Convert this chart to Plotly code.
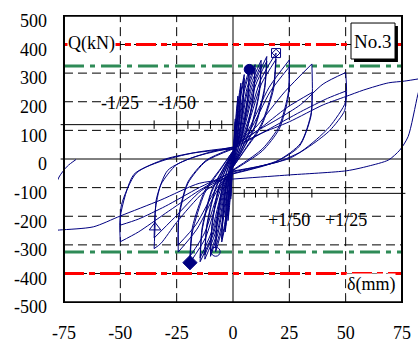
import plotly.graph_objects as go

FONT = "Liberation Serif, Times New Roman, serif"
NAVY = "#000080"

# ---------------- axis ticks ----------------
x_ticks = [-75, -50, -25, 0, 25, 50, 75]
y_ticks = [-500, -400, -300, -200, -100, 0, 100, 200, 300, 400, 500]

# reference load levels (kN)
q_red = [400, -400]
q_green = [325, -325]

# drift-angle scale lines and their tick positions (mm)
drift_q_neg_side = 120
drift_q_pos_side = -120
drift_ticks_neg = [-5, -10, -15, -20, -25, -35, -50]
drift_ticks_pos = [5, 10, 15, 20, 25, 35, 50, 75]

# drift labels
drift_labels = ["-1/25", "-1/50", "+1/50", "+1/25"]
drift_label_x = [-50, -25, 25, 50]
drift_label_q = [196, 196, -213, -213]

# ---------------- hysteresis branches: (delta mm, Q kN) ----------------
loop_01 = [
    [(0, 5), (0.4, 60), (1.0, 140)],
    [(1.0, 140), (0.7, 75), (0.3, 25), (0, -5)],
    [(0, -5), (-0.4, -60), (-1.0, -140)],
    [(-1.0, -140), (-0.7, -75), (-0.3, -25), (0, 5)],
    [(0, 5), (0.45, 55), (1.0, 130)],
    [(1.0, 130), (0.7, 70), (0.3, 22), (0, -5)],
    [(0, -5), (-0.45, -55), (-1.0, -130)],
    [(-1.0, -130), (-0.7, -70), (-0.3, -22), (0, 5)],
]
loop_02 = [
    [(0, 8), (0.8, 90), (1.6, 175), (2.2, 220)],
    [(2.2, 220), (1.9, 150), (1.1, 70), (0.4, 15), (0, -8)],
    [(0, -8), (-0.8, -88), (-1.6, -170), (-2.2, -215)],
    [(-2.2, -215), (-1.9, -145), (-1.1, -68), (-0.4, -14), (0, 8)],
    [(0, 8), (0.85, 85), (1.65, 165), (2.2, 205)],
    [(2.2, 205), (1.9, 140), (1.1, 65), (0.4, 12), (0, -8)],
    [(0, -8), (-0.85, -82), (-1.65, -160), (-2.2, -200)],
    [(-2.2, -200), (-1.9, -135), (-1.1, -62), (-0.4, -12), (0, 8)],
]
loop_03 = [
    [(0, 10), (1.2, 100), (2.5, 210), (3.5, 265)],
    [(3.5, 265), (3.1, 185), (2.0, 85), (0.8, 20), (0, -10)],
    [(0, -10), (-1.2, -95), (-2.5, -200), (-3.5, -255)],
    [(-3.5, -255), (-3.1, -178), (-2.0, -80), (-0.8, -18), (0, 10)],
    [(0, 10), (1.3, 95), (2.6, 200), (3.5, 250)],
    [(3.5, 250), (3.1, 175), (2.0, 80), (0.8, 18), (0, -10)],
    [(0, -10), (-1.3, -90), (-2.6, -192), (-3.5, -245)],
    [(-3.5, -245), (-3.1, -170), (-2.0, -76), (-0.8, -16), (0, 10)],
]
loop_05 = [
    [(0, 12), (1.6, 105), (3.4, 230), (5, 295)],
    [(5, 295), (4.5, 205), (3.0, 95), (1.2, 22), (0, -12)],
    [(0, -12), (-1.6, -100), (-3.4, -228), (-5, -290)],
    [(-5, -290), (-4.5, -200), (-3.0, -92), (-1.2, -20), (0, 12)],
    [(0, 12), (1.7, 100), (3.5, 220), (5, 282)],
    [(5, 282), (4.5, 195), (3.0, 90), (1.2, 20), (0, -12)],
    [(0, -12), (-1.7, -95), (-3.5, -218), (-5, -280)],
    [(-5, -280), (-4.5, -192), (-3.0, -88), (-1.2, -18), (0, 12)],
]
loop_07 = [
    [(0, 15), (2.2, 105), (4.8, 245), (7.2, 313)],
    [(7.2, 313), (6.6, 220), (4.4, 100), (1.8, 25), (0, -15)],
    [(0, -15), (-2.3, -105), (-5.1, -250), (-7.7, -324)],
    [(-7.7, -324), (-7.1, -225), (-4.7, -100), (-1.9, -25), (0, 15)],
    [(0, 15), (2.4, 100), (5.0, 235), (7.2, 300)],
    [(7.2, 300), (6.6, 210), (4.4, 95), (1.8, 22), (0, -15)],
    [(0, -15), (-2.5, -100), (-5.3, -240), (-7.7, -310)],
    [(-7.7, -310), (-7.1, -215), (-4.7, -95), (-1.9, -22), (0, 15)],
]
loop_10 = [
    [(0, 18), (2.8, 100), (6.3, 250), (9.8, 330)],
    [(9.8, 330), (9.1, 230), (6.2, 105), (2.6, 28), (0, -18)],
    [(0, -18), (-2.9, -100), (-6.5, -255), (-10, -340)],
    [(-10, -340), (-9.3, -235), (-6.4, -105), (-2.7, -28), (0, 18)],
    [(0, 18), (3.0, 95), (6.5, 240), (9.8, 318)],
    [(9.8, 318), (9.1, 220), (6.2, 100), (2.6, 25), (0, -18)],
    [(0, -18), (-3.1, -95), (-6.7, -245), (-10, -330)],
    [(-10, -330), (-9.3, -228), (-6.4, -100), (-2.7, -25), (0, 18)],
]
loop_12 = [
    [(0, 22), (3.5, 100), (8.0, 260), (12.5, 345)],
    [(12.5, 345), (11.7, 240), (8.0, 112), (3.4, 30), (0, -22)],
    [(0, -22), (-3.5, -100), (-8.0, -262), (-12.5, -350)],
    [(-12.5, -350), (-11.7, -245), (-8.0, -112), (-3.4, -30), (0, 22)],
    [(0, 22), (3.7, 95), (8.3, 250), (12.5, 330)],
    [(12.5, 330), (11.7, 230), (8.0, 106), (3.4, 27), (0, -22)],
    [(0, -22), (-3.7, -95), (-8.3, -252), (-12.5, -335)],
    [(-12.5, -335), (-11.7, -235), (-8.0, -106), (-3.4, -27), (0, 22)],
]
loop_15 = [
    [(0, 25), (4.2, 100), (9.6, 265), (15, 358)],
    [(15, 358), (14, 250), (9.8, 118), (4.2, 32), (0, -25)],
    [(0, -25), (-4.1, -100), (-9.4, -268), (-14.6, -359)],
    [(-14.6, -359), (-13.7, -250), (-9.6, -118), (-4.1, -32), (0, 25)],
    [(0, 25), (4.4, 95), (9.9, 255), (15, 342)],
    [(15, 342), (14, 240), (9.8, 112), (4.2, 30), (0, -25)],
    [(0, -25), (-4.3, -95), (-9.7, -258), (-14.6, -345)],
    [(-14.6, -345), (-13.7, -240), (-9.6, -112), (-4.1, -30), (0, 25)],
]
loop_19 = [
    [(0, 28), (5.2, 100), (12.2, 275), (19.1, 370)],
    [(19.1, 370), (18, 258), (12.6, 122), (5.4, 35), (0, -28)],
    [(0, -28), (-5.2, -100), (-12.2, -275), (-19.1, -362)],
    [(-19.1, -362), (-18, -255), (-12.6, -120), (-5.4, -35), (0, 28)],
    [(0, 28), (5.5, 95), (12.6, 262), (19.1, 348)],
    [(19.1, 348), (18, 245), (12.6, 115), (5.4, 32), (0, -28)],
    [(0, -28), (-5.5, -95), (-12.6, -258), (-19.1, -340)],
    [(-19.1, -340), (-18, -238), (-12.6, -112), (-5.4, -32), (0, 28)],
]
loop_25 = [
    [(0, 32), (7, 105), (16, 250), (25, 346)],
    [(25, 346), (24.6, 235), (20.5, 115), (13, 35), (0, -38)],
    [(0, -38), (-7, -110), (-16, -245), (-24.3, -325)],
    [(-24.3, -325), (-24, -205), (-20, -85), (-12, -8), (0, 35)],
    [(0, 35), (7.5, 100), (16.5, 235), (25, 322)],
    [(25, 322), (24.6, 220), (20.5, 105), (13, 28), (0, -40)],
    [(0, -40), (-7.5, -105), (-16.5, -230), (-24.3, -300)],
    [(-24.3, -300), (-24, -195), (-20, -80), (-12, -5), (0, 38)],
]
loop_35 = [
    [(0, 38), (10, 110), (23, 235), (35, 332)],
    [(35, 332), (34.8, 165), (30, 55), (20, -5), (0, -50)],
    [(0, -50), (-13, -116), (-25, -221), (-32, -295), (-35, -313)],
    [(-35, -313), (-34.6, -239), (-34, -140), (-29, -40), (-18, 5), (0, 40)],
    [(0, 40), (11, 100), (24, 180), (35, 232)],
    [(35, 232), (34.6, 150), (29.5, 45), (19, -10), (0, -52)],
    [(0, -52), (-14, -110), (-26, -205), (-35, -276)],
    [(-35, -276), (-34.5, -180), (-32, -90), (-25, -20), (-12, 20), (0, 42)],
]
loop_50 = [
    [(0, 42), (10, 95), (20, 140), (30, 190), (40, 262), (50, 302)],
    [(50, 302), (50, 200), (43, 114), (37, 68), (30, 25), (20, -10), (10, -28), (0, -42)],
    [(0, -42), (-15, -110), (-30, -190), (-42, -255), (-50, -289)],
    [(-50, -289), (-50, -200), (-44, -54), (-32, -8), (-17.6, 21), (0, 35)],
    [(0, 35), (15, 100), (30, 165), (42, 212), (50, 237)],
    [(50, 237), (49.6, 170), (43, 100), (35, 50), (25, 2), (12, -25), (0, -45)],
    [(0, -45), (-15, -100), (-30, -165), (-42, -210), (-50, -231)],
    [(-50, -231), (-49.5, -160), (-43, -50), (-30, 0), (-15, 25), (0, 40)],
]
loop_final = [
    [(0, 40), (12, 88), (25, 130), (40, 189), (50, 218), (58, 241), (69, 266), (76, 272), (84, 282)],
    [(84, 282), (82, 224), (77.7, 78), (74, 31), (69, -3.5), (60, -25), (50.5, -41), (24.4, -56), (0, -70)],
    [(0, -70), (-15, -85), (-32, -143), (-50, -199), (-62, -237), (-77, -248), (-84, -252)],
    [(-84, -252), (-81, -150), (-77.2, -63), (-73.5, -25), (-69.7, -2)],
]

# marked points
pt_circle_filled = (7.2, 313)
pt_square = (19.1, 370)
pt_diamond_filled = (-19.1, -362)
pt_circle_open = (-7.7, -324)
pt_triangle_open = (-34.6, -239)

all_loops = [loop_01, loop_02, loop_03, loop_05, loop_07, loop_10, loop_12,
             loop_15, loop_19, loop_25, loop_35, loop_50, loop_final]

xs, ys = [], []
for loop in all_loops:
    for branch in loop:
        for d, q in branch:
            xs.append(d)
            ys.append(q)
        xs.append(None)
        ys.append(None)

fig = go.Figure()
fig.add_trace(go.Scatter(
    x=xs, y=ys, mode="lines", connectgaps=False, hoverinfo="skip",
    line=dict(color=NAVY, width=1, shape="spline", smoothing=0.7),
    showlegend=False))

# drift scale tick marks
fig.add_trace(go.Scatter(
    x=drift_ticks_neg, y=[drift_q_neg_side] * len(drift_ticks_neg), mode="markers",
    marker=dict(symbol="line-ns", size=6, line=dict(color="black", width=1)),
    showlegend=False, hoverinfo="skip"))
fig.add_trace(go.Scatter(
    x=drift_ticks_pos, y=[drift_q_pos_side] * len(drift_ticks_pos), mode="markers",
    marker=dict(symbol="line-ns", size=6, line=dict(color="black", width=1)),
    showlegend=False, hoverinfo="skip"))

# special markers
def add_pt(pt, symbol, size, fill):
    fig.add_trace(go.Scatter(
        x=[pt[0]], y=[pt[1]], mode="markers", showlegend=False, hoverinfo="skip",
        marker=dict(symbol=symbol, size=size, color=fill,
                    line=dict(color=NAVY, width=1))))

add_pt(pt_circle_filled, "circle", 10, NAVY)
add_pt(pt_square, "square-open", 9, NAVY)
add_pt(pt_square, "diamond-open", 6, NAVY)
add_pt(pt_diamond_filled, "diamond", 11, NAVY)
add_pt(pt_circle_open, "circle-open", 9, NAVY)
add_pt(pt_triangle_open, "triangle-up-open", 10, NAVY)

shapes = []
GRID_DASH = "9px,5px"
for v in x_ticks:
    if v not in (0, -75, 75):
        shapes.append(dict(type="line", xref="x", yref="y", x0=v, x1=v, y0=-500, y1=500,
                           line=dict(color="black", width=1, dash=GRID_DASH), layer="below"))
for v in y_ticks:
    if v not in (0, -500, 500):
        shapes.append(dict(type="line", xref="x", yref="y", x0=-75, x1=75, y0=v, y1=v,
                           line=dict(color="black", width=1, dash=GRID_DASH), layer="below"))
# zero axes
shapes.append(dict(type="line", xref="x", yref="y", x0=0, x1=0, y0=-500, y1=500,
                   line=dict(color="black", width=1), layer="below"))
shapes.append(dict(type="line", xref="x", yref="y", x0=-76.5, x1=75, y0=0, y1=0,
                   line=dict(color="black", width=1), layer="below"))
# drift scale lines
shapes.append(dict(type="line", xref="x", yref="y", x0=-76.5, x1=0,
                   y0=drift_q_neg_side, y1=drift_q_neg_side,
                   line=dict(color="black", width=1), layer="below"))
shapes.append(dict(type="line", xref="x", yref="y", x0=0, x1=76.5,
                   y0=drift_q_pos_side, y1=drift_q_pos_side,
                   line=dict(color="black", width=1), layer="below"))
# red / green reference lines
for v in q_red:
    shapes.append(dict(type="line", xref="x", yref="y", x0=-75, x1=75, y0=v, y1=v,
                       line=dict(color="#FF0000", width=3, dash="20px,5px,6px,5px"), layer="below"))
for v in q_green:
    shapes.append(dict(type="line", xref="x", yref="y", x0=-75, x1=75, y0=v, y1=v,
                       line=dict(color="#2E8B57", width=3, dash="20px,6px,5px,6px"), layer="below"))
# frame
shapes.append(dict(type="rect", xref="x", yref="y", x0=-75, x1=75, y0=-500, y1=500,
                   line=dict(color="black", width=2), layer="above"))
# No.3 box with shadow
shapes.append(dict(type="rect", xref="x", yref="y", x0=53.7, x1=73.2, y0=338.8, y1=464.5,
                   line=dict(width=0), fillcolor="black", layer="above"))
shapes.append(dict(type="rect", xref="x", yref="y", x0=52.37, x1=71.9, y0=349.3, y1=475,
                   line=dict(color="black", width=1), fillcolor="white", layer="above"))

annotations = []
for t, x, y in zip(drift_labels, drift_label_x, drift_label_q):
    annotations.append(dict(x=x, y=y, xref="x", yref="y", text=t, showarrow=False,
                            font=dict(family=FONT, size=18, color="black")))
annotations.append(dict(x=-62.6, y=405, xref="x", yref="y", text="Q(kN)", showarrow=False,
                        bgcolor="white", borderpad=0,
                        font=dict(family=FONT, size=18, color="black")))
annotations.append(dict(x=61.2, y=-440, xref="x", yref="y", text="δ(mm)", showarrow=False,
                        bgcolor="white", borderpad=0,
                        font=dict(family=FONT, size=18, color="black")))
annotations.append(dict(x=62.1, y=412, xref="x", yref="y", text="No.3", showarrow=False,
                        font=dict(family=FONT, size=19, color="black")))

fig.update_layout(
    width=418, height=343,
    margin=dict(l=58, r=0, t=15, b=40, pad=0, autoexpand=False),
    paper_bgcolor="white", plot_bgcolor="white",
    shapes=shapes, annotations=annotations,
    showlegend=False,
    xaxis=dict(range=[-77.66, 82.1], tickvals=x_ticks, ticktext=[str(v) for v in x_ticks],
               showgrid=False, zeroline=False, showline=False, ticks="",
               tickfont=dict(family=FONT, size=18, color="black"), automargin=False,
               ticklabelstandoff=17, fixedrange=True),
    yaxis=dict(range=[-503, 503], tickvals=y_ticks, ticktext=[str(v) for v in y_ticks],
               showgrid=False, zeroline=False, showline=False, ticks="",
               tickfont=dict(family=FONT, size=18, color="black"), automargin=False,
               ticklabelstandoff=10, ticklabelshift=5, fixedrange=True),
)

fig.write_html("out.html")
